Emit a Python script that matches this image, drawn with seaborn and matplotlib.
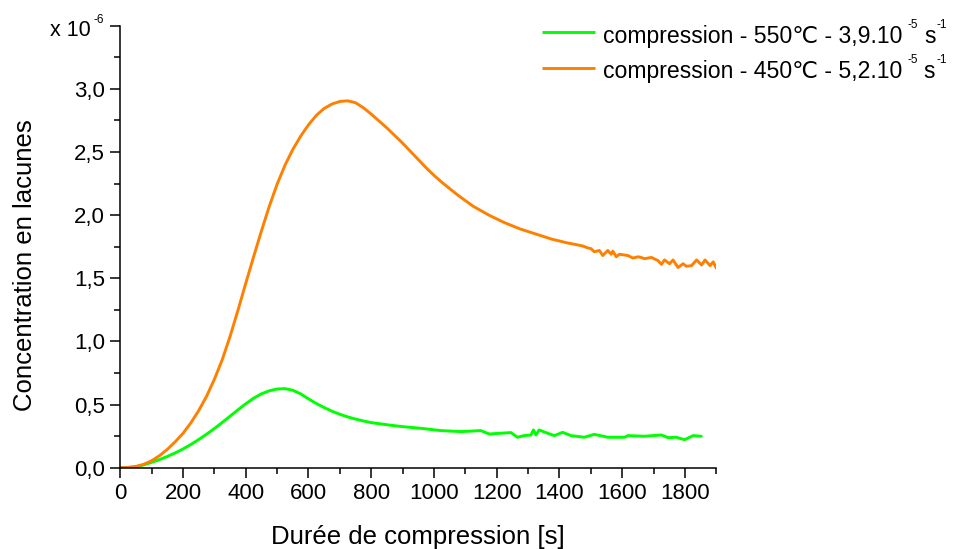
import numpy as np
import pandas as pd
import matplotlib
matplotlib.use("Agg")
import matplotlib.pyplot as plt
from matplotlib.ticker import MultipleLocator, FixedLocator, FuncFormatter
from matplotlib.offsetbox import (TextArea, HPacker, VPacker, DrawingArea,
                                  AnchoredOffsetbox)
from matplotlib.lines import Line2D
import seaborn as sns

# Vacancy concentration (x 1e-6) versus compression time [s]
t_550 = [0, 25, 50, 75, 100, 125, 150, 175, 200, 225, 250, 275, 300, 325, 350,
         375, 400, 425, 450, 475, 500, 525, 550, 575, 600, 625, 650, 675, 700,
         725, 750, 775, 800, 850, 900, 958, 1021, 1085, 1120, 1149, 1176, 1213,
         1245, 1266, 1287, 1309, 1317, 1325, 1335, 1362, 1384, 1410, 1437, 1479,
         1511, 1554, 1607, 1618, 1671, 1725, 1746, 1772, 1783, 1799, 1826, 1852]
c_550 = [0.0, 0.002, 0.008, 0.022, 0.042, 0.064, 0.089, 0.117, 0.148, 0.184,
         0.223, 0.265, 0.31, 0.358, 0.408, 0.458, 0.506, 0.55, 0.585, 0.609,
         0.623, 0.626, 0.613, 0.585, 0.545, 0.508, 0.476, 0.447, 0.423, 0.402,
         0.385, 0.37, 0.357, 0.34, 0.325, 0.312, 0.294, 0.286, 0.29, 0.294,
         0.267, 0.273, 0.278, 0.241, 0.254, 0.259, 0.299, 0.259, 0.299, 0.273,
         0.254, 0.28, 0.254, 0.241, 0.264, 0.241, 0.241, 0.254, 0.249, 0.259,
         0.238, 0.241, 0.233, 0.222, 0.254, 0.249]

t_450 = [0, 25, 50, 75, 100, 125, 150, 175, 200, 225, 250, 275, 300, 325, 350,
         375, 400, 425, 450, 475, 500, 525, 550, 575, 600, 625, 650, 675, 700,
         725, 750, 775, 800, 825, 850, 875, 900, 925, 950, 975, 1000, 1025,
         1050, 1075, 1100, 1125, 1150, 1175, 1200, 1225, 1250, 1275, 1300, 1325,
         1350, 1375, 1400, 1425, 1450, 1475, 1490, 1500, 1511, 1527, 1538, 1554,
         1565, 1570, 1581, 1591, 1605, 1618, 1634, 1650, 1660, 1671, 1693, 1714,
         1725, 1735, 1751, 1762, 1778, 1794, 1805, 1821, 1837, 1853, 1864, 1880,
         1890, 1900]
c_450 = [0.0, 0.002, 0.01, 0.027, 0.055, 0.095, 0.145, 0.205, 0.272, 0.355,
         0.452, 0.565, 0.70, 0.855, 1.04, 1.245, 1.46, 1.67, 1.875, 2.07, 2.245,
         2.395, 2.52, 2.625, 2.715, 2.79, 2.845, 2.88, 2.90, 2.905, 2.89, 2.85,
         2.80, 2.745, 2.69, 2.63, 2.57, 2.505, 2.44, 2.375, 2.315, 2.26, 2.21,
         2.16, 2.115, 2.07, 2.035, 2.00, 1.97, 1.94, 1.915, 1.89, 1.87, 1.85,
         1.83, 1.81, 1.795, 1.78, 1.768, 1.755, 1.74, 1.735, 1.71, 1.72, 1.68,
         1.72, 1.69, 1.715, 1.67, 1.69, 1.685, 1.68, 1.66, 1.67, 1.665, 1.655,
         1.665, 1.64, 1.61, 1.645, 1.615, 1.645, 1.585, 1.615, 1.595, 1.60,
         1.645, 1.605, 1.645, 1.60, 1.63, 1.58]

# legend entries: (main text, exponent of strain rate)
legend_main = ["compression - 550\u2103 - 3,9.10", "compression - 450\u2103 - 5,2.10"]
legend_exp = ["-5", "-5"]
legend_unit = ("s", "-1")
colors = ["#00ff00", "#ff8000"]

df = pd.concat([
    pd.DataFrame({"t": t_550, "c": np.array(c_550) * 1e-6, "serie": "550"}),
    pd.DataFrame({"t": t_450, "c": np.array(c_450) * 1e-6, "serie": "450"}),
], ignore_index=True)

sns.set_style("ticks")
FAM = ["Liberation Sans", "DejaVu Sans"]
plt.rcParams["font.family"] = FAM
for key in ("text.color", "axes.labelcolor", "xtick.color", "ytick.color",
            "axes.edgecolor"):
    plt.rcParams[key] = "black"

FS = 16
FS_LAB = 18.5
LEG_FS = 16.6
SUP_FS = 8.5
LW = 2.1

fig = plt.figure(figsize=(9.56, 5.49), dpi=100)
ax = fig.add_axes([0.1258, 0.1481, 0.6235, 0.8051])

sns.lineplot(data=df, x="t", y="c", hue="serie", palette=colors,
             estimator=None, sort=False, linewidth=LW, legend=False, ax=ax)

ax.set_xlim(0, 1900)
ax.set_ylim(0, 3.5e-6)

for side in ("top", "right"):
    ax.spines[side].set_visible(False)
for side in ("left", "bottom"):
    ax.spines[side].set_linewidth(1.1)

ax.xaxis.set_major_locator(FixedLocator(np.arange(0, 1801, 200)))
ax.xaxis.set_minor_locator(MultipleLocator(100))
ax.yaxis.set_major_locator(MultipleLocator(0.5e-6))
ax.yaxis.set_minor_locator(MultipleLocator(0.25e-6))


def y_fmt(v, pos):
    s = v * 1e6
    if s > 3.25:
        return ""
    return f"{s:.1f}".replace(".", ",")


ax.yaxis.set_major_formatter(FuncFormatter(y_fmt))
ax.tick_params(which="major", direction="out", length=7, width=1.1,
               labelsize=FS, pad=4, color="black", labelcolor="black")
ax.tick_params(which="minor", direction="out", length=4, width=1.1, color="black")

# axis multiplier "x 10^-6" above the y axis
px = 1.0 / fig.dpi * 72  # points per pixel
fig.text(91 / 956, 1 - 36 / 549, "x 10", ha="right", va="baseline", fontsize=15.5)
fig.text(93 / 956, 1 - 23 / 549, "-6", ha="left", va="baseline", fontsize=SUP_FS)

ax.set_xlabel("Durée de compression [s]", fontsize=FS_LAB, va="center")
ax.xaxis.set_label_coords(0.5, -0.157)
ax.set_ylabel("Concentration en lacunes", fontsize=FS_LAB, va="center")
ax.yaxis.set_label_coords(-0.16, 0.459)

# legend built from packed text so exponents can be set as small superscripts
tp = dict(fontsize=LEG_FS, family=FAM, color="black")
sp = dict(fontsize=SUP_FS, family=FAM, color="black")
RAISE = 17.5 * px


def sup(s):
    return VPacker(children=[TextArea(s, textprops=sp), DrawingArea(0, RAISE)],
                   pad=0, sep=0, align="left")


def legend_row(color, main, exp):
    handle = DrawingArea(53 * px, 10, 0, 0)
    handle.add_artist(Line2D([0, 53 * px], [5.6, 5.6], color=color, lw=LW,
                             solid_capstyle="butt"))
    part_a = HPacker(children=[TextArea(main, textprops=tp), sup(exp)],
                     pad=0, sep=5 * px, align="bottom")
    part_b = HPacker(children=[TextArea(legend_unit[0], textprops=tp),
                               sup(legend_unit[1])],
                     pad=0, sep=1 * px, align="bottom")
    text = HPacker(children=[part_a, part_b], pad=0, sep=6 * px, align="bottom")
    return HPacker(children=[handle, text], pad=0, sep=8 * px, align="center")


rows = [legend_row(c, m, e) for c, m, e in zip(colors, legend_main, legend_exp)]
box = AnchoredOffsetbox(loc="upper left", child=VPacker(children=rows, pad=0,
                                                        sep=5.6 * px, align="left"),
                        pad=0, borderpad=0, frameon=False,
                        bbox_to_anchor=(542 / 956, 1 - 18.5 / 549),
                        bbox_transform=fig.transFigure)
fig.add_artist(box)

fig.savefig("out.png", dpi=100)
